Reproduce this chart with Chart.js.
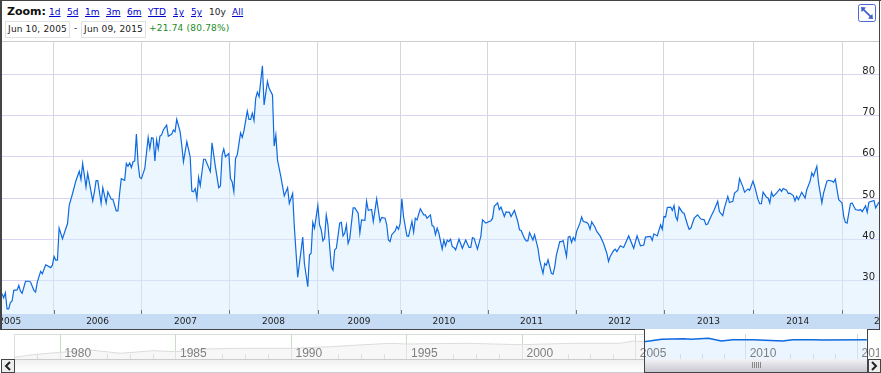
<!DOCTYPE html>
<html><head><meta charset="utf-8">
<script src="https://cdn.jsdelivr.net/npm/chart.js@4"></script>
<style>
html,body{margin:0;padding:0;background:#fff;overflow:hidden}
#page{position:relative;width:881px;height:373px;overflow:hidden;font-family:"DejaVu Sans",sans-serif;font-size:9px;color:#222}
#page div,#page a,#page span,#page canvas,#page svg{position:absolute}
canvas{display:block}
a{color:#00c;text-decoration:underline;top:7px;line-height:11px;white-space:nowrap}
.box{background:#fff;border:1px solid #e2e2e2;top:21px;height:15px;line-height:15px;text-align:center;white-space:nowrap;letter-spacing:.15px}
</style></head><body>
<div id="page">
  <div style="left:0;top:0;width:881px;height:41px;background:#fff"></div>
  <span style="left:7px;top:5px;font-weight:bold;font-size:11px;line-height:14px;color:#111">Zoom:</span>
  <a style="left:49px">1d</a><a style="left:67px">5d</a><a style="left:85px">1m</a><a style="left:106px">3m</a>
  <a style="left:127px">6m</a><a style="left:148px">YTD</a><a style="left:173px">1y</a><a style="left:191px">5y</a>
  <span style="left:209px;top:7px;line-height:11px">10y</span><a style="left:232px">All</a>
  <div class="box" style="left:5px;width:63px">Jun 10, 2005</div>
  <span style="left:74px;top:23px;line-height:11px">-</span>
  <div class="box" style="left:81px;width:63px">Jun 09, 2015</div>
  <span style="left:149px;top:23px;line-height:11px;color:#228b22;white-space:nowrap;letter-spacing:.2px">+21.74 (80.78%)</span>
  <svg style="left:858px;top:4px" width="19" height="19" viewBox="0 0 19 19">
    <rect x="0.5" y="0.5" width="17" height="17" rx="2" fill="#fff" stroke="#4a68d8"/>
    <path d="M3 3 L8 3.6 L6.4 5.2 L12.8 11.6 L14.4 10 L15 15 L10 14.4 L11.6 12.8 L5.2 6.4 L3.6 8 Z" fill="#3f5fc8"/>
  </svg>

  <div style="left:2px;top:41px;width:877px;height:1px;background:#ccc"></div>
  <div style="left:2px;top:314px;width:877px;height:15px;background:#c6dcf4"></div>
  <div style="left:2px;top:42px;width:877px;height:272px;background:#fff"></div>
  <div style="left:2px;top:41px;width:877px;height:288px"><canvas id="main" width="877" height="288"></canvas></div>

  <div style="left:14px;top:334px;width:630px;height:1px;background:#ddd"></div>
  <div style="left:14px;top:334px;width:1px;height:25px;background:#ddd"></div>
  <div style="left:14px;top:334px;width:865px;height:25px"><canvas id="over" width="865" height="25"></canvas></div>

  <div style="left:14px;top:359px;width:630px;height:13px;background:linear-gradient(#f0f0f2,#fff);border-top:1px solid #ccc;border-bottom:1px solid #ccc;height:12px"></div>
  <div style="left:1px;top:359px;width:12px;height:12px;background:#eee;border:1px solid #444"></div>
  <svg style="left:2px;top:360px" width="12" height="12"><path d="M8 2 L4 6 L8 10" fill="none" stroke="#222" stroke-width="2"/></svg>
  <div style="left:645px;top:359px;width:222px;height:13px;background:linear-gradient(#f3f3f6,#c8c8d2)"></div>
  <div style="left:752px;top:362px;width:9px;height:6px;background:repeating-linear-gradient(90deg,#888 0 1px,transparent 1px 2px)"></div>
  <div style="left:868px;top:359px;width:11px;height:12px;background:#eee;border:1px solid #444"></div>
  <svg style="left:869px;top:360px" width="12" height="12"><path d="M3 2 L7 6 L3 10" fill="none" stroke="#222" stroke-width="2"/></svg>

  <div style="left:0;top:0;width:881px;height:1px;background:#444"></div>
  <div style="left:0;top:0;width:2px;height:330px;background:#444"></div>
  <div style="left:879px;top:0;width:1px;height:330px;background:#444"></div>
  <div style="left:0;top:329px;width:644px;height:1px;background:#444"></div>
  <div style="left:868px;top:329px;width:12px;height:1px;background:#444"></div>
  <div style="left:644px;top:329px;width:1px;height:44px;background:#444"></div>
  <div style="left:867px;top:329px;width:1px;height:44px;background:#444"></div>
  <div style="left:644px;top:372px;width:224px;height:1px;background:#444"></div>
</div>
<script>
// Weekly index counted from Jun 10, 2005, with the price read at that week
const weeksA = [0,1,2,3,4,5,6,7,9,10,
11,12,14,16,17,19,20,21,23,24,
26,29,30,31,32,33,34,36,38,39,
40,42,44,46,47,48,50,51,54,55,
56,57,59,60,62,63,65,66,68,69,
70,71,73,74,75,76,77,78,79,80,
81,82,83,85,87,88,89,90,91,92,
93,94,95,96,98,99,101,102,103,104,
106,107,108,110,112,113,114,115,116,117,
118,120,121,124,125,127,129,130,131,132,
133,135,136,137,138,139,140,142,143,144,
146,147,148,149,150,151,152,153,155,156,
158,159,161,162,163,164,166,168,170,171,
173,174,176];
const pricesA = [26.8,25.8,27.0,23.1,23.1,24.6,25.0,27.6,27.7,28.8,
27.4,26.9,29.8,29.8,29.6,27.6,27.2,29.6,32.2,31.6,
33.8,33.1,33.7,35.8,34.9,34.9,42.7,40.1,42.6,43.8,
48.2,51.1,54.2,56.5,54.5,58.4,52.7,56.0,49.3,51.5,
54.2,54.2,48.7,52.5,48.8,51.5,49.7,49.7,46.9,46.9,
51.1,54.7,54.3,58.4,57.7,58.5,57.4,58.8,59.0,65.5,
58.4,55.0,54.7,57.2,64.7,62.0,64.6,64.5,59.0,64.1,
61.9,65.0,65.3,66.5,67.7,65.0,65.5,66.5,66.1,69.1,
66.1,62.8,58.8,63.7,60.0,51.7,51.5,52.3,49.9,55.0,
53.0,59.4,59.4,56.4,63.4,57.6,52.5,52.9,60.4,61.9,
60.0,60.8,54.7,53.9,51.5,59.6,60.4,65.8,64.7,66.3,
71.1,69.1,69.1,70.6,68.8,74.2,75.7,74.6,82.1,72.6,
78.3,76.6,75.0,62.6,65.3,59.2,55.1,50.5,52.5,48.7,
51.1,43.0,30.8];
const weeksB = [177,179,180,182,183,184,185,186,188,189,
190,191,192,193,194,196,197,198,199,201,
202,203,204,205,206,207,209,210,212,213,
214,216,217,218,220,221,223,225,226,228,
229,230,231,232,234,235,236,237,238,239,
241,242,244,245,246,247,249,251,252,253,
255,256,257,258,259,260,262,263,264,265,
266,267,268,269,270,272,274,276,278,279,
280,281,283,285,286,288,291,292,293,295,
296,297,299,300,302,303,305,307,308,309,
311,312,313,314,316,317,319,320,321,322,
323,324,325,327,328,329,330,332,333,334,
336,337,338,339,340,341,342,344,345,346,
348,349,350,351,353,354];
const pricesB = [34.0,40.5,34.1,28.5,36.2,36.6,44.1,42.7,48.2,43.5,
42.3,39.6,40.2,45.9,43.5,33.3,32.5,37.4,37.8,43.9,
44.1,40.8,41.5,43.5,39.0,40.2,47.6,47.6,46.3,41.5,
44.7,44.6,49.2,47.0,47.2,44.3,49.8,44.3,45.3,45.1,
43.5,39.8,39.4,41.1,42.0,43.1,42.4,43.9,49.8,45.5,
40.8,40.7,44.3,41.7,45.1,44.7,47.4,45.9,45.9,45.1,
45.9,43.3,43.1,41.1,42.7,41.5,37.6,39.8,38.4,39.8,
39.4,40.0,38.2,38.0,37.4,40.0,37.8,39.8,38.0,38.0,
40.4,40.2,37.6,40.7,44.7,43.9,44.5,45.1,48.0,48.8,
47.2,47.8,45.5,46.6,46.5,45.5,47.0,44.3,42.3,42.1,
40.2,39.6,39.6,41.6,39.8,41.1,37.8,35.0,33.3,31.7,
34.1,33.7,35.0,31.7,31.5,33.3,36.2,39.4,39.4,39.7,
35.8,40.5,40.7,39.2,40.4,39.7,41.9,43.9,45.4,44.3,
44.1,43.7,42.4,44.2,42.9,41.9];
const weeksC = [356,358,360,361,362,364,365,366,368,370,
373,376,378,380,382,383,386,387,388,390,
392,393,394,395,396,398,399,400,401,402,
403,405,406,408,409,410,412,414,416,418,
419,420,422,424,426,427,429,430,432,433,
435,436,438,439,441,442,444,445,447,448,
450,451,452,453,455,456,457,458,459,461,
463,464,465,467,468,469,471,472,473,474,
476,478,479,481,482,483,485,486,488,489,
491,492,494,495,496,498,500,501,502,503,
505,506,508,510,511,512,514,515,516,519,
520,522];
const pricesC = [40.8,39.0,36.6,34.6,35.8,37.2,37.6,37.0,38.4,38.0,
40.8,37.8,40.8,38.4,38.6,40.5,40.7,39.7,41.3,40.8,
43.5,42.4,45.5,45.4,47.7,47.8,47.0,48.2,45.5,44.6,
47.8,46.5,46.3,43.5,42.4,42.7,45.1,45.9,44.9,44.7,
43.5,43.7,45.5,47.2,49.2,46.7,45.7,47.6,50.4,48.9,
49.2,51.2,51.9,54.7,52.7,51.4,52.2,51.9,54.1,52.8,
49.6,48.6,48.6,51.4,50.2,50.0,48.8,51.4,50.4,51.2,
52.2,51.6,52.3,51.9,51.1,51.2,50.6,49.3,50.4,49.6,
51.4,50.0,52.0,54.1,56.1,55.3,57.7,53.7,48.8,51.2,
54.1,54.3,54.1,53.8,54.6,49.6,48.8,45.5,44.1,43.9,
48.6,48.8,47.2,47.0,47.2,46.7,48.1,46.5,49.0,49.4,
47.6,49.0];

const yearStartWeeks = [30.7,83,135.4,187.8,237.2,289,341.4,393.8,447.3,500];
const yearLabelWeeks = [4.6,56.9,109.2,161.6,212.5,263.1,315.2,367.6,420.5,473.6,525.9];
const yearLabels = ["2005","2006","2007","2008","2009","2010","2011","2012","2013","2014","2015"];
const priceTicks = [30,40,50,60,70,80];

// Overview strip: history before the selected range, then the selected range
const historyYears = [1978,1978.8,1980,1981.3,1982.6,1984,1985,1986.3,1987.8,1990.1,1991.7,1992.7,1994.3,1995,1997.6,1999.9,2002.2,2004.2,2004.8,2005.26];
const historyLevels = [1.7,4.3,6.7,9,5.7,8.3,7.3,10,10.7,10.7,12.3,13.7,15.7,15,15.7,14.3,15.7,15.7,18,17.3];
const rangeYears = [2005.26,2006.03,2006.96,2007.3,2008.05,2008.6,2009.1,2009.98,2011.26,2011.7,2012.57,2013,2014.9];
const rangeLevels = [17.3,19.7,20.3,19.7,20.7,18,19.3,19.2,18,19.3,19.3,19,19.3];
const overviewTicks = [1980,1985,1990,1995,2000,2004.9,2009.66,2014.5];
const overviewLabels = ["1980","1985","1990","1995","2000","2005","2010","2015"];

const weeks = weeksA.concat(weeksB, weeksC);
const prices = pricesA.concat(pricesB, pricesC);
const pts = (xs, ys) => xs.map((x, i) => ({x, y: ys[i]}));
const setTicks = vals => axis => { axis.ticks = vals.map(value => ({value})); };
const font = {family: '"DejaVu Sans",sans-serif'};

const axisTicks = {
  id: 'axisTicks',
  afterDatasetsDraw(chart) {
    const {ctx, scales: {x}, chartArea: a} = chart;
    ctx.save();
    ctx.strokeStyle = '#777';
    ctx.lineWidth = 1;
    x.ticks.forEach(t => {
      const p = Math.round(x.getPixelForValue(t.value)) + 0.5;
      ctx.beginPath(); ctx.moveTo(p, a.bottom - 4); ctx.lineTo(p, a.bottom); ctx.stroke();
    });
    ctx.restore();
  }
};

new Chart(document.getElementById('main'), {
  type: 'line',
  data: {datasets: [{
    data: pts(weeks, prices), borderColor: '#0f6ae0', borderWidth: 1.2, pointRadius: 0, tension: 0,
    fill: 'start', backgroundColor: 'rgba(214,236,255,0.48)'
  }]},
  options: {
    responsive: false, animation: false, parsing: false, normalized: true,
    layout: {padding: 0},
    plugins: {legend: {display: false}, tooltip: {enabled: false}},
    scales: {
      x: {type: 'linear', position: 'bottom', min: 0, max: 522,
        afterBuildTicks: setTicks(yearStartWeeks),
        afterFit: s => { s.height = 0; s.paddingLeft = s.paddingRight = 0; },
        ticks: {display: false, autoSkip: false},
        grid: {color: '#d4d6da', drawTicks: false}, border: {display: false}},
      xLabels: {type: 'linear', position: 'bottom', min: 0, max: 522,
        afterBuildTicks: setTicks(yearLabelWeeks),
        afterFit: s => { s.height = 15; s.paddingLeft = s.paddingRight = 0; },
        ticks: {autoSkip: false, maxRotation: 0, padding: 2, color: '#222', font: {...font, size: 9},
          callback: (v, i) => yearLabels[i]},
        grid: {display: false, drawTicks: false}, border: {display: false}},
      y: {type: 'linear', position: 'right', min: 21.85, max: 88.1,
        afterBuildTicks: setTicks(priceTicks),
        afterFit: s => { s.width = 0; s.paddingTop = s.paddingBottom = 0; },
        ticks: {mirror: true, padding: -4, labelOffset: -3, color: '#222', font: {...font, size: 10}, autoSkip: false, z: 1},
        grid: {color: '#d6d6f4', drawTicks: false}, border: {display: false}}
    }
  },
  plugins: [axisTicks]
});

const overviewMinor = {
  id: 'overviewMinor',
  beforeDatasetsDraw(chart) {
    const {ctx, scales: {x}, chartArea: a} = chart;
    ctx.save();
    ctx.strokeStyle = '#ccc';
    ctx.lineWidth = 1;
    for (let i = 0; i < overviewTicks.length - 1; i++) {
      const from = overviewTicks[i], step = (overviewTicks[i + 1] - from) / 5;
      for (let k = 2; k < 5; k++) {
        const p = Math.round(x.getPixelForValue(from + k * step)) + 0.5;
        ctx.beginPath(); ctx.moveTo(p, a.bottom - 5); ctx.lineTo(p, a.bottom); ctx.stroke();
      }
    }
    const p0 = Math.round(x.getPixelForValue(1979)) + 0.5;
    ctx.beginPath(); ctx.moveTo(p0, a.bottom - 5); ctx.lineTo(p0, a.bottom); ctx.stroke();
    ctx.restore();
  }
};

new Chart(document.getElementById('over'), {
  type: 'line',
  data: {datasets: [
    {data: pts(historyYears, historyLevels), borderColor: '#dcdcdc', borderWidth: 1, pointRadius: 0, tension: 0,
      fill: 'start', backgroundColor: 'rgba(240,240,240,0.5)'},
    {data: pts(rangeYears, rangeLevels), borderColor: '#0f6ae0', borderWidth: 1.4, pointRadius: 0, tension: 0,
      fill: 'start', backgroundColor: 'rgba(214,236,255,0.5)'}
  ]},
  options: {
    responsive: false, animation: false, parsing: false, normalized: true,
    layout: {padding: 0},
    plugins: {legend: {display: false}, tooltip: {enabled: false}},
    scales: {
      x: {type: 'linear', position: 'bottom', min: 1977.99, max: 2015.43,
        afterBuildTicks: setTicks(overviewTicks),
        afterFit: s => { s.height = 0; s.paddingLeft = s.paddingRight = 0; },
        ticks: {mirror: true, align: 'start', labelOffset: 4, padding: -2, autoSkip: false, maxRotation: 0, color: '#808080', z: 1,
          font: {family: '"Liberation Sans",Arial,sans-serif', size: 12},
          callback: (v, i) => overviewLabels[i]},
        grid: {color: '#c9dcc4', drawTicks: false}, border: {display: false}},
      y: {display: false, min: 0, max: 25}
    }
  },
  plugins: [overviewMinor]
});
</script>
</body></html>
